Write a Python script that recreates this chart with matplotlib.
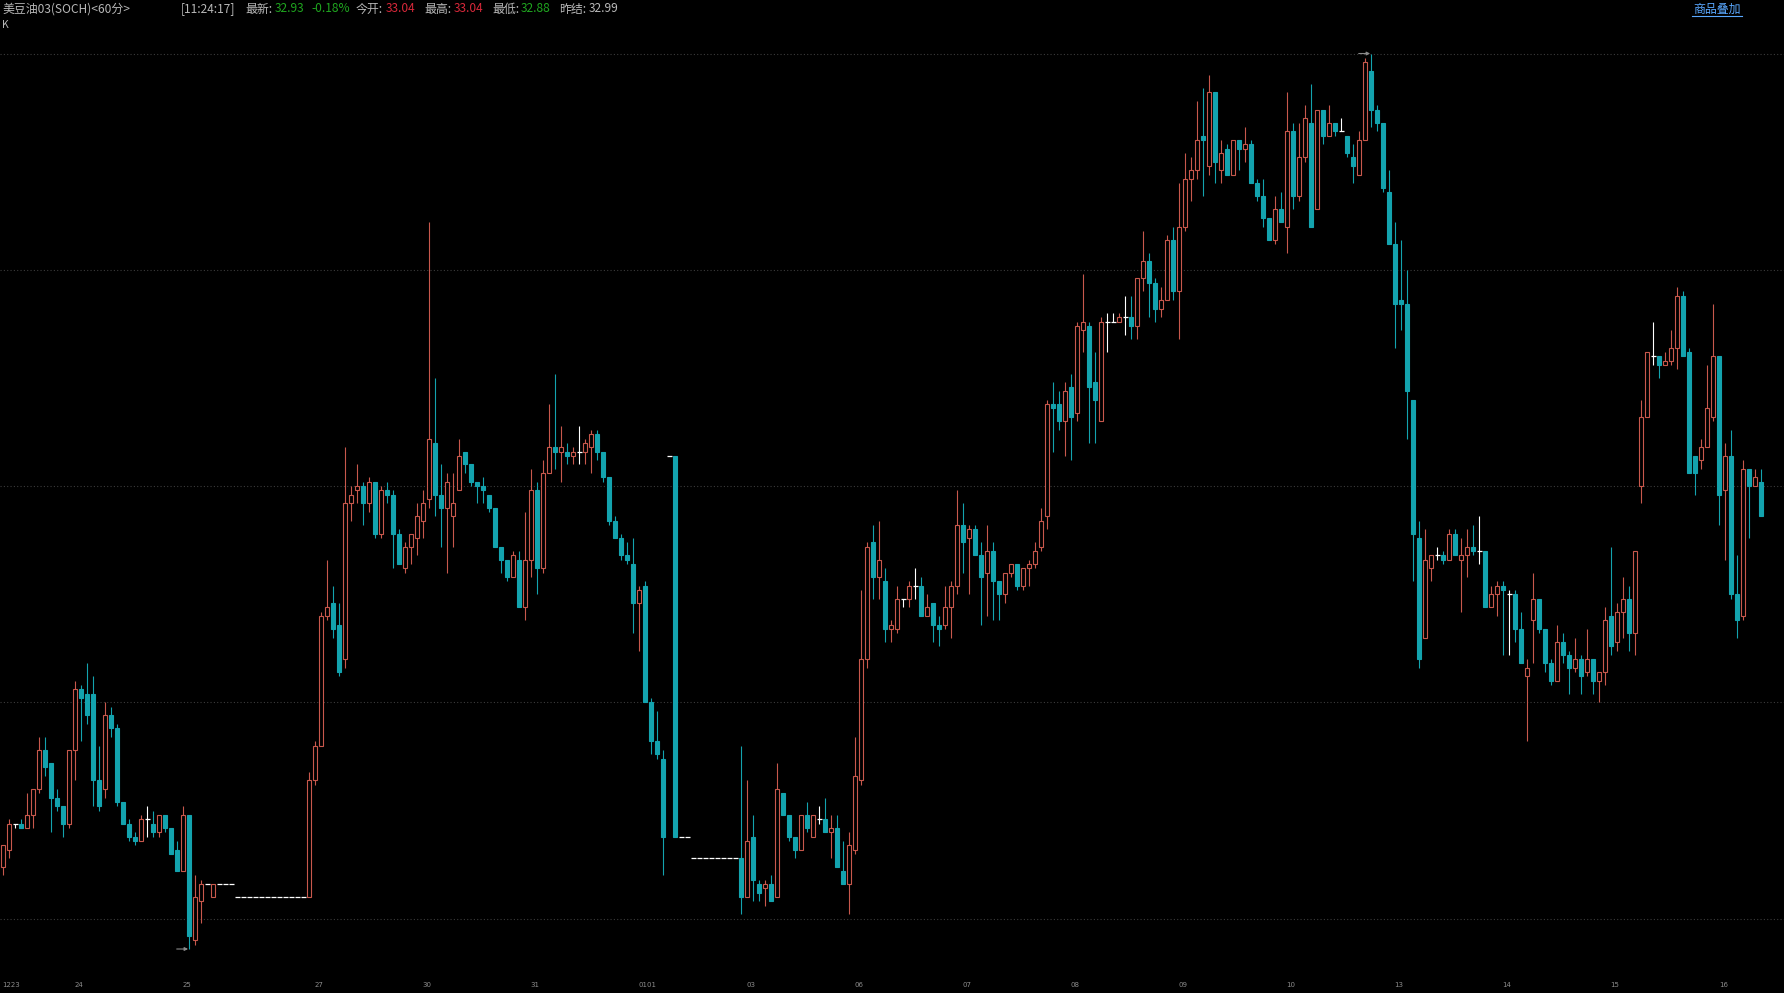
import matplotlib
matplotlib.use("Agg")
import matplotlib.pyplot as plt
import numpy as np

plt.rcParams['font.family'] = ['Noto Sans CJK SC', 'DejaVu Sans']

# ---------------- data (60-minute candles) ----------------
opens = [
32.12,32.16,32.22,32.22,32.21,32.24,32.30,32.39,32.36,32.28,
32.26,32.22,32.39,32.53,32.52,32.52,32.32,32.30,32.47,32.44,
32.27,32.22,32.19,32.18,32.23,32.22,32.20,32.24,32.21,32.16,
32.11,32.24,31.95,32.04,32.08,32.05,32.08,32.08,32.08,32.05,
32.05,32.05,32.05,32.05,32.05,32.05,32.05,32.05,32.05,32.05,
32.05,32.05,32.32,32.40,32.70,32.73,32.68,32.60,32.96,32.99,
33.00,32.96,33.01,32.89,32.99,32.98,32.89,32.81,32.86,32.88,
32.92,32.97,33.10,32.98,32.95,32.93,32.99,33.08,33.05,33.01,
33.00,32.98,32.95,32.86,32.83,32.79,32.83,32.72,32.83,32.99,
32.81,33.03,33.09,33.08,33.08,33.07,33.08,33.08,33.09,33.12,
33.08,33.02,32.92,32.88,32.84,32.82,32.73,32.77,32.50,32.41,
32.37,33.07,33.07,32.19,32.19,32.14,32.14,32.14,32.14,32.14,
32.14,32.14,32.14,32.14,32.05,32.19,32.08,32.07,32.08,32.05,
32.29,32.24,32.19,32.16,32.24,32.19,32.23,32.23,32.20,32.21,
32.11,32.08,32.16,32.32,32.60,32.87,32.79,32.78,32.67,32.67,
32.74,32.74,32.77,32.77,32.70,32.73,32.68,32.68,32.72,32.77,
32.91,32.88,32.90,32.84,32.80,32.85,32.78,32.75,32.80,32.82,
32.77,32.81,32.82,32.86,32.93,33.19,33.19,33.15,33.23,33.17,
33.36,33.37,33.24,33.15,33.38,33.38,33.38,33.39,33.39,33.37,
33.48,33.52,33.47,33.41,33.43,33.57,33.45,33.60,33.71,33.73,
33.81,33.74,33.91,33.73,33.78,33.72,33.80,33.78,33.79,33.70,
33.67,33.62,33.57,33.64,33.60,33.82,33.67,33.76,33.84,33.64,
33.87,33.81,33.84,33.82,33.81,33.76,33.72,33.80,33.96,33.87,
33.84,33.68,33.56,33.43,33.42,33.20,32.88,32.65,32.81,32.84,
32.84,32.83,32.89,32.83,32.84,32.86,32.85,32.85,32.72,32.75,
32.77,32.75,32.75,32.67,32.56,32.69,32.74,32.67,32.59,32.55,
32.64,32.61,32.58,32.60,32.57,32.60,32.55,32.57,32.70,32.64,
32.71,32.74,32.66,33.00,33.16,33.30,33.30,33.28,33.29,33.32,
33.44,33.31,33.07,33.06,33.09,33.16,33.30,32.99,33.07,32.75,
32.70,33.04,33.00,33.01,
]
highs = [
32.17,32.23,32.22,32.23,32.29,32.30,32.42,32.42,32.36,32.30,
32.26,32.39,32.55,32.54,32.59,32.56,32.40,32.50,32.49,32.45,
32.27,32.23,32.20,32.24,32.26,32.25,32.24,32.24,32.21,32.18,
32.26,32.24,32.10,32.09,32.08,32.08,32.08,32.08,32.08,32.05,
32.05,32.05,32.05,32.05,32.05,32.05,32.05,32.05,32.05,32.05,
32.05,32.34,32.41,32.71,32.83,32.77,32.73,33.09,33.00,33.05,
33.01,33.02,33.01,33.00,33.01,32.99,32.90,32.87,32.89,32.96,
32.99,33.61,33.25,33.05,33.03,33.03,33.11,33.08,33.05,33.01,
33.02,32.98,32.95,32.86,32.83,32.85,32.85,32.94,33.04,33.01,
33.06,33.19,33.26,33.14,33.10,33.09,33.14,33.11,33.13,33.13,
33.08,33.02,32.93,32.89,32.87,32.88,32.77,32.78,32.51,32.48,
32.39,33.07,33.07,32.19,32.19,32.14,32.14,32.14,32.14,32.14,
32.14,32.14,32.14,32.40,32.32,32.24,32.09,32.09,32.10,32.36,
32.29,32.24,32.19,32.24,32.27,32.24,32.26,32.28,32.24,32.24,
32.18,32.20,32.42,32.76,32.87,32.91,32.92,32.81,32.69,32.77,
32.74,32.78,32.81,32.79,32.75,32.73,32.70,32.77,32.78,32.99,
32.96,32.91,32.91,32.87,32.91,32.87,32.78,32.80,32.82,32.82,
32.81,32.83,32.87,32.95,33.20,33.24,33.22,33.24,33.26,33.38,
33.49,33.38,33.31,33.39,33.40,33.40,33.40,33.44,33.44,33.48,
33.59,33.54,33.48,33.46,33.58,33.60,33.70,33.77,33.76,33.89,
33.92,33.95,33.91,33.80,33.79,33.80,33.80,33.83,33.80,33.71,
33.71,33.62,33.67,33.68,33.91,33.84,33.84,33.88,33.93,33.87,
33.87,33.88,33.84,33.85,33.81,33.79,33.82,33.99,34.00,33.88,
33.84,33.73,33.61,33.57,33.50,33.20,32.92,32.90,32.84,32.86,
32.85,32.90,32.90,32.88,32.90,32.91,32.93,32.85,32.77,32.78,
32.78,32.76,32.76,32.71,32.60,32.80,32.74,32.67,32.60,32.68,
32.66,32.62,32.65,32.61,32.67,32.60,32.57,32.72,32.86,32.73,
32.79,32.77,32.85,33.20,33.31,33.38,33.30,33.31,33.36,33.46,
33.45,33.32,33.07,33.11,33.28,33.42,33.30,33.10,33.13,32.84,
33.06,33.04,33.04,33.04,
]
lows = [
32.10,32.14,32.21,32.21,32.21,32.21,32.29,32.33,32.20,32.25,
32.19,32.21,32.32,32.41,32.45,32.26,32.25,32.28,32.42,32.26,
32.22,32.18,32.17,32.18,32.19,32.19,32.19,32.20,32.15,32.11,
32.11,31.93,31.94,31.99,32.08,32.05,32.08,32.08,32.08,32.05,
32.05,32.05,32.05,32.05,32.05,32.05,32.05,32.05,32.05,32.05,
32.05,32.05,32.31,32.40,32.69,32.65,32.56,32.58,32.92,32.96,
32.91,32.94,32.88,32.88,32.96,32.81,32.82,32.80,32.82,32.84,
32.88,32.95,32.93,32.86,32.80,32.86,32.99,33.03,33.00,32.96,
32.96,32.94,32.86,32.80,32.78,32.79,32.72,32.69,32.79,32.75,
32.80,33.03,33.04,33.01,33.05,33.05,33.05,33.05,33.03,33.06,
33.01,32.91,32.88,32.83,32.82,32.66,32.62,32.50,32.38,32.37,
32.10,33.07,32.19,32.19,32.19,32.14,32.14,32.14,32.14,32.14,
32.14,32.14,32.14,32.01,32.05,32.04,32.04,32.03,32.04,32.05,
32.24,32.18,32.14,32.16,32.20,32.19,32.22,32.20,32.14,32.12,
32.08,32.01,32.15,32.31,32.58,32.74,32.74,32.64,32.64,32.66,
32.72,32.72,32.74,32.70,32.70,32.64,32.63,32.67,32.65,32.75,
32.80,32.75,32.84,32.68,32.70,32.69,32.69,32.73,32.79,32.76,
32.76,32.77,32.81,32.85,32.90,33.08,33.13,33.07,33.06,33.15,
33.31,33.10,33.10,33.15,33.31,33.38,33.38,33.35,33.34,33.34,
33.45,33.39,33.38,33.39,33.43,33.43,33.34,33.59,33.66,33.71,
33.67,33.72,33.70,33.70,33.72,33.72,33.73,33.75,33.70,33.66,
33.60,33.57,33.56,33.61,33.54,33.64,33.66,33.75,33.60,33.64,
33.79,33.81,33.81,33.82,33.76,33.70,33.72,33.80,33.83,33.82,
33.68,33.56,33.32,33.36,33.11,32.78,32.58,32.65,32.78,32.83,
32.82,32.83,32.84,32.71,32.79,32.84,32.82,32.72,32.72,32.70,
32.61,32.61,32.64,32.59,32.41,32.59,32.66,32.57,32.54,32.55,
32.59,32.52,32.57,32.52,32.56,32.52,32.50,32.54,32.61,32.62,
32.65,32.62,32.61,32.96,33.16,33.28,33.25,33.28,33.28,33.27,
33.30,33.03,32.98,33.04,33.09,33.15,32.91,32.83,32.74,32.65,
32.69,32.88,33.00,32.93,
]
closes = [
32.17,32.22,32.22,32.21,32.24,32.30,32.39,32.35,32.28,32.26,
32.22,32.39,32.53,32.51,32.47,32.32,32.26,32.47,32.44,32.27,
32.22,32.19,32.18,32.23,32.23,32.20,32.24,32.21,32.15,32.11,
32.24,31.96,32.05,32.08,32.08,32.08,32.08,32.08,32.08,32.05,
32.05,32.05,32.05,32.05,32.05,32.05,32.05,32.05,32.05,32.05,
32.05,32.32,32.40,32.70,32.72,32.67,32.57,32.96,32.98,33.00,
32.96,33.01,32.89,32.99,32.98,32.89,32.82,32.86,32.89,32.93,
32.96,33.11,32.98,32.95,33.01,32.96,33.07,33.05,33.01,33.00,
32.99,32.95,32.86,32.83,32.79,32.84,32.72,32.83,32.99,32.81,
33.03,33.09,33.08,33.09,33.07,33.08,33.08,33.10,33.12,33.08,
33.02,32.92,32.88,32.84,32.83,32.73,32.76,32.50,32.41,32.38,
32.19,33.07,32.19,32.19,32.19,32.14,32.14,32.14,32.14,32.14,
32.14,32.14,32.14,32.05,32.18,32.09,32.06,32.08,32.04,32.30,
32.24,32.19,32.16,32.24,32.21,32.24,32.23,32.20,32.21,32.12,
32.08,32.17,32.33,32.60,32.86,32.79,32.83,32.67,32.68,32.74,
32.74,32.77,32.77,32.70,32.72,32.68,32.67,32.72,32.77,32.91,
32.87,32.90,32.84,32.79,32.85,32.78,32.75,32.80,32.82,32.77,
32.81,32.82,32.85,32.92,33.19,33.18,33.15,33.22,33.16,33.37,
33.38,33.23,33.20,33.38,33.38,33.38,33.39,33.39,33.37,33.48,
33.52,33.47,33.41,33.43,33.57,33.45,33.60,33.71,33.73,33.80,
33.80,33.91,33.75,33.77,33.72,33.80,33.78,33.79,33.70,33.67,
33.62,33.57,33.64,33.61,33.82,33.67,33.76,33.85,33.60,33.87,
33.81,33.84,33.82,33.82,33.77,33.74,33.80,33.98,33.87,33.84,
33.69,33.56,33.42,33.42,33.22,32.89,32.60,32.83,32.84,32.84,
32.83,32.89,32.84,32.84,32.86,32.85,32.85,32.72,32.75,32.77,
32.76,32.75,32.67,32.59,32.58,32.74,32.67,32.59,32.55,32.64,
32.61,32.58,32.60,32.56,32.60,32.55,32.57,32.69,32.63,32.71,
32.74,32.66,32.85,33.16,33.31,33.30,33.28,33.29,33.32,33.44,
33.30,33.03,33.03,33.09,33.18,33.30,32.98,33.07,32.75,32.69,
33.04,33.00,33.02,32.93,
]

session_labels = ['1223', '24', '25', '27', '30', '31', '0101', '03', '06',
                  '07', '08', '09', '10', '13', '14', '15', '16']
session_start = [0, 12, 30, 52, 70, 88, 106, 124, 142,
                 160, 178, 196, 214, 232, 250, 268, 286]
grid_levels = [32.0, 32.5, 33.0, 33.5, 34.0]

title_text = '美豆油03(SOCH)<60分>'
quote_time = '[11:24:17]'
last_price = '32.93'
change_pct = '-0.18%'
open_today = '33.04'
high_today = '33.04'
low_today = '32.88'
prev_settle = '32.99'

# ---------------- drawing ----------------
W, H = 1784, 993
fig = plt.figure(figsize=(W / 100, H / 100), dpi=100, facecolor='black')
ax = fig.add_axes([0, 0, 1, 1])
ax.set_facecolor('black')
ax.set_xlim(-0.55, 296.78)
ax.set_ylim(31.8283, 34.1237)
ax.axis('off')

RED = '#c8584c'
TEAL = '#13a3ae'
WHITE = '#ffffff'
GRID = '#3c3c3c'

for g in grid_levels:
    ax.axhline(g, color=GRID, lw=0.8, ls=(0, (1, 2)), zorder=0)

o = np.array(opens); h = np.array(highs); l = np.array(lows); c = np.array(closes)
x = np.arange(len(o))
bw = 0.64

up = c > o
dn = c < o
eq = c == o

# wicks
ax.vlines(x[up], l[up], h[up], color=RED, lw=0.8, zorder=1)
ax.vlines(x[dn], l[dn], h[dn], color=TEAL, lw=0.8, zorder=1)
ax.vlines(x[eq], l[eq], h[eq], color=WHITE, lw=0.8, zorder=1)

# bodies
ax.bar(x[up], c[up] - o[up], bottom=o[up], width=bw, facecolor='black',
       edgecolor=RED, linewidth=0.8, zorder=2)
ax.bar(x[dn], o[dn] - c[dn], bottom=c[dn], width=bw, facecolor=TEAL,
       edgecolor=TEAL, linewidth=0.8, zorder=2)
ax.hlines(o[eq], x[eq] - 0.42, x[eq] + 0.42, color=WHITE, lw=0.9, zorder=2)

# extreme markers
imax = int(np.argmax(h)); imin = int(np.argmin(l))
for idx, val in ((imax, h[imax]), (imin, l[imin])):
    ax.annotate('', xy=(idx - 0.2, val), xytext=(idx - 2.1, val),
                arrowprops=dict(arrowstyle='-|>', color='#8a8a8a', lw=0.8,
                                mutation_scale=5, shrinkA=0, shrinkB=0),
                zorder=3)

# date labels
for lab, pos in zip(session_labels, session_start):
    ax.text(pos - 0.1, 31.8283 + (993 - 985.5) / 432.6, lab, color='#8c8c8c',
            fontsize=5, ha='left', va='center', family=['DejaVu Sans'])


def ftext(px, py, s, color, size=8.6, **kw):
    return fig.text(px / W, 1 - py / H, s, color=color, fontsize=size,
                    ha='left', va='center', **kw)


GRAY = '#b8b8b8'
GREEN = '#1fa51f'
RTXT = '#d8283a'
ftext(2, 9, title_text, GRAY)
ftext(181, 9, quote_time, GRAY)
ftext(245, 9, '最新:', GRAY)
ftext(275, 9, last_price, GREEN)
ftext(311, 9, change_pct, GREEN)
ftext(356, 9, '今开:', GRAY)
ftext(386, 9, open_today, RTXT)
ftext(424, 9, '最高:', GRAY)
ftext(454, 9, high_today, RTXT)
ftext(492, 9, '最低:', GRAY)
ftext(521, 9, low_today, GREEN)
ftext(559, 9, '昨结:', GRAY)
ftext(589, 9, prev_settle, GRAY)
ftext(2, 25, 'K', GRAY, size=7.5)

BLUE = '#5aa8ff'
ftext(1693, 9, '商品叠加', BLUE)
fig.add_artist(plt.Line2D([1692 / W, 1742 / W], [1 - 16 / H, 1 - 16 / H],
                          color=BLUE, lw=0.8))

fig.savefig('out.png', dpi=100, facecolor='black')
